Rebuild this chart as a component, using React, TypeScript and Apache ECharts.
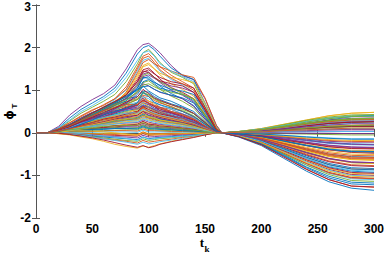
import React, { useEffect, useRef } from "react";
import * as echarts from "echarts";

// time steps at which each trace is sampled
const tk = [0, 10, 20, 30, 40, 50, 60, 70, 80, 90, 95, 100, 105, 110, 120, 130, 140, 150, 160, 165, 180, 200, 220, 240, 260, 280, 300];

const xTicks = [0, 50, 100, 150, 200, 250, 300];
const yTicks = [-2, -1, 0, 1, 2, 3];

// traces with a large excursion around t ≈ 100
const upperTraces: number[][] = [
  [0, 0, 0.15, 0.42, 0.62, 0.78, 0.92, 1.12, 1.5, 1.95, 2.07, 2.1, 2.0, 1.88, 1.58, 1.34, 1.25, 0.8, 0.18, 0, -0.02, -0.05, -0.1, -0.15, -0.2, -0.22, -0.22],
  [0, 0, 0.12, 0.35, 0.55, 0.7, 0.85, 1.05, 1.4, 1.85, 2.0, 2.05, 1.95, 1.8, 1.52, 1.36, 1.25, 0.7, 0.15, 0, 0.02, 0.06, 0.12, 0.2, 0.3, 0.38, 0.4],
  [0, 0, 0.1, 0.28, 0.46, 0.6, 0.74, 0.9, 1.2, 1.62, 1.88, 1.96, 1.82, 1.65, 1.42, 1.3, 1.15, 0.62, 0.12, 0, -0.05, -0.15, -0.3, -0.45, -0.6, -0.7, -0.72],
  [0, 0, 0.1, 0.24, 0.4, 0.54, 0.64, 0.8, 1.08, 1.55, 1.8, 1.86, 1.72, 1.55, 1.35, 1.2, 1.05, 0.55, 0.1, 0, 0.01, 0.03, 0.06, 0.1, 0.14, 0.17, 0.18],
  [0, 0, 0.06, 0.2, 0.33, 0.46, 0.6, 0.78, 1.0, 1.45, 1.7, 1.75, 1.6, 1.45, 1.25, 1.12, 0.95, 0.5, 0.08, 0, -0.08, -0.25, -0.5, -0.75, -0.95, -1.08, -1.1],
  [0, 0, 0.08, 0.16, 0.3, 0.42, 0.54, 0.7, 0.95, 1.35, 1.58, 1.64, 1.5, 1.36, 1.15, 1.02, 0.86, 0.45, 0.07, 0, 0.03, 0.1, 0.2, 0.3, 0.4, 0.46, 0.48],
  [0, 0, 0.06, 0.17, 0.31, 0.46, 0.6, 0.72, 0.9, 1.25, 1.48, 1.52, 1.4, 1.26, 1.06, 0.95, 0.8, 0.42, 0.06, 0, -0.03, -0.1, -0.2, -0.3, -0.4, -0.46, -0.48],
  [0, 0, 0.05, 0.13, 0.26, 0.37, 0.52, 0.64, 0.82, 1.15, 1.38, 1.42, 1.3, 1.18, 1.0, 0.88, 0.72, 0.36, 0.05, 0, 0, 0.02, 0.03, 0.05, 0.07, 0.08, 0.08],
  [0, 0, 0.07, 0.18, 0.31, 0.43, 0.56, 0.68, 0.8, 1.05, 1.28, 1.32, 1.2, 1.1, 0.92, 0.8, 0.64, 0.32, 0.04, 0, -0.06, -0.2, -0.4, -0.6, -0.8, -0.9, -0.93],
  [0, 0, 0.05, 0.15, 0.26, 0.39, 0.51, 0.63, 0.74, 0.98, 1.18, 1.22, 1.12, 1.02, 0.86, 0.74, 0.58, 0.28, 0.03, 0, 0.02, 0.07, 0.14, 0.22, 0.28, 0.32, 0.33],
  [0, 0, 0.06, 0.15, 0.28, 0.4, 0.52, 0.68, 0.95, 1.4, 1.65, 1.72, 1.62, 1.55, 1.45, 1.36, 1.3, 0.82, 0.18, 0, -0.04, -0.12, -0.25, -0.38, -0.5, -0.57, -0.58],
  [0, 0, 0.11, 0.3, 0.5, 0.64, 0.8, 0.98, 1.3, 1.7, 1.88, 1.92, 1.8, 1.62, 1.45, 1.32, 1.2, 0.68, 0.14, 0, 0.01, 0.04, 0.09, 0.15, 0.22, 0.26, 0.27],
  [0, 0, 0.07, 0.19, 0.33, 0.47, 0.6, 0.74, 0.92, 1.3, 1.55, 1.6, 1.5, 1.4, 1.3, 1.25, 1.18, 0.7, 0.12, 0, -0.07, -0.21, -0.42, -0.64, -0.84, -0.95, -0.97],
  [0, 0, 0.09, 0.2, 0.35, 0.48, 0.58, 0.72, 0.88, 1.2, 1.42, 1.48, 1.38, 1.3, 1.2, 1.15, 1.05, 0.6, 0.1, 0, 0.02, 0.05, 0.1, 0.16, 0.22, 0.25, 0.26],
  [0, 0, 0.05, 0.14, 0.27, 0.4, 0.53, 0.66, 0.8, 1.1, 1.32, 1.36, 1.28, 1.2, 1.1, 1.05, 0.95, 0.52, 0.08, 0, -0.02, -0.07, -0.15, -0.23, -0.3, -0.34, -0.35],
  [0, 0, 0.08, 0.2, 0.34, 0.47, 0.6, 0.72, 0.84, 1.0, 1.2, 1.25, 1.18, 1.12, 1.02, 0.98, 0.9, 0.48, 0.07, 0, -0.09, -0.27, -0.54, -0.82, -1.06, -1.2, -1.22],
  [0, 0, 0.06, 0.16, 0.29, 0.41, 0.55, 0.66, 0.78, 0.95, 1.12, 1.15, 1.08, 1.02, 0.95, 0.9, 0.8, 0.42, 0.06, 0, 0.01, 0.04, 0.07, 0.11, 0.15, 0.17, 0.18],
  [0, 0, 0.09, 0.23, 0.38, 0.52, 0.66, 0.8, 1.02, 1.5, 1.75, 1.8, 1.65, 1.48, 1.28, 1.15, 1.0, 0.55, 0.09, 0, -0.04, -0.13, -0.26, -0.4, -0.52, -0.59, -0.6],
  [0, 0, 0.07, 0.17, 0.3, 0.44, 0.57, 0.7, 0.85, 1.12, 1.35, 1.4, 1.3, 1.2, 1.05, 0.92, 0.78, 0.4, 0.05, 0, 0.03, 0.08, 0.16, 0.25, 0.33, 0.38, 0.39],
  [0, 0, 0.05, 0.15, 0.28, 0.42, 0.56, 0.7, 0.86, 1.02, 1.08, 1.1, 1.02, 0.96, 0.88, 0.82, 0.7, 0.36, 0.05, 0, -0.01, -0.03, -0.06, -0.1, -0.13, -0.15, -0.15],
];

// traces in the dense middle of the band
const middleTraces: number[][] = [
  [0, 0, 0.08, 0.18, 0.3, 0.42, 0.55, 0.68, 0.8, 0.85, 0.98, 0.95, 0.85, 0.78, 0.68, 0.6, 0.45, 0.22, 0.02, 0, -0.1, -0.3, -0.6, -0.9, -1.15, -1.3, -1.35],
  [0, 0, 0.05, 0.14, 0.24, 0.36, 0.48, 0.6, 0.72, 0.8, 0.92, 0.9, 0.8, 0.72, 0.6, 0.52, 0.4, 0.2, 0.02, 0, 0.03, 0.09, 0.18, 0.27, 0.35, 0.4, 0.41],
  [0, 0, 0.04, 0.1, 0.2, 0.3, 0.42, 0.55, 0.68, 0.78, 0.88, 0.85, 0.76, 0.7, 0.62, 0.5, 0.38, 0.2, 0.02, 0, -0.02, -0.08, -0.16, -0.24, -0.32, -0.36, -0.37],
  [0, 0, 0.06, 0.15, 0.26, 0.36, 0.45, 0.55, 0.65, 0.72, 0.85, 0.8, 0.7, 0.65, 0.55, 0.45, 0.35, 0.18, 0.02, 0, -0.07, -0.22, -0.45, -0.68, -0.88, -1.0, -1.02],
  [0, 0, 0.03, 0.1, 0.18, 0.28, 0.38, 0.48, 0.6, 0.68, 0.8, 0.75, 0.66, 0.6, 0.5, 0.42, 0.32, 0.16, 0.01, 0, 0.01, 0.02, 0.04, 0.06, 0.08, 0.09, 0.09],
  [0, 0, 0.05, 0.12, 0.22, 0.32, 0.42, 0.5, 0.6, 0.65, 0.76, 0.7, 0.62, 0.56, 0.48, 0.4, 0.3, 0.15, 0.01, 0, -0.04, -0.13, -0.27, -0.41, -0.54, -0.61, -0.62],
  [0, 0, 0.04, 0.1, 0.2, 0.3, 0.38, 0.48, 0.56, 0.6, 0.7, 0.66, 0.58, 0.52, 0.45, 0.38, 0.28, 0.14, 0.01, 0, 0.02, 0.08, 0.15, 0.23, 0.3, 0.34, 0.35],
  [0, 0, 0.02, 0.08, 0.16, 0.25, 0.34, 0.44, 0.52, 0.57, 0.66, 0.62, 0.55, 0.5, 0.42, 0.35, 0.26, 0.13, 0.01, 0, -0.06, -0.18, -0.36, -0.54, -0.72, -0.82, -0.84],
  [0, 0, 0.05, 0.12, 0.2, 0.28, 0.35, 0.42, 0.5, 0.54, 0.63, 0.58, 0.52, 0.46, 0.4, 0.33, 0.24, 0.12, 0.01, 0, 0, -0.01, -0.02, -0.03, -0.04, -0.05, -0.05],
  [0, 0, 0.03, 0.09, 0.16, 0.24, 0.32, 0.4, 0.47, 0.5, 0.6, 0.55, 0.48, 0.44, 0.38, 0.3, 0.22, 0.11, 0.01, 0, -0.03, -0.1, -0.2, -0.3, -0.4, -0.45, -0.46],
  [0, 0, 0.04, 0.1, 0.17, 0.24, 0.3, 0.37, 0.43, 0.46, 0.55, 0.5, 0.45, 0.4, 0.34, 0.28, 0.2, 0.1, 0.01, 0, 0.01, 0.05, 0.1, 0.15, 0.19, 0.22, 0.23],
  [0, 0, 0.02, 0.07, 0.14, 0.2, 0.27, 0.34, 0.4, 0.44, 0.52, 0.48, 0.42, 0.38, 0.32, 0.26, 0.19, 0.1, 0.01, 0, -0.05, -0.16, -0.32, -0.48, -0.62, -0.7, -0.72],
  [0, 0, 0.03, 0.08, 0.14, 0.2, 0.26, 0.32, 0.38, 0.41, 0.5, 0.45, 0.4, 0.36, 0.3, 0.24, 0.18, 0.09, 0.01, 0, 0.02, 0.05, 0.11, 0.17, 0.22, 0.25, 0.26],
  [0, 0, 0.05, 0.1, 0.15, 0.2, 0.25, 0.3, 0.35, 0.38, 0.46, 0.42, 0.37, 0.33, 0.28, 0.23, 0.17, 0.08, 0.01, 0, -0.02, -0.06, -0.12, -0.18, -0.24, -0.27, -0.28],
  [0, 0, 0.02, 0.06, 0.11, 0.17, 0.22, 0.28, 0.33, 0.36, 0.44, 0.4, 0.35, 0.32, 0.27, 0.22, 0.16, 0.08, 0, 0, -0.08, -0.26, -0.52, -0.8, -1.02, -1.16, -1.18],
  [0, 0, 0.03, 0.07, 0.12, 0.17, 0.22, 0.27, 0.31, 0.33, 0.41, 0.37, 0.33, 0.3, 0.25, 0.2, 0.15, 0.07, 0, 0, 0.01, 0.03, 0.06, 0.09, 0.12, 0.14, 0.14],
  [0, 0, 0.01, 0.05, 0.1, 0.15, 0.2, 0.25, 0.29, 0.31, 0.38, 0.34, 0.3, 0.27, 0.23, 0.19, 0.14, 0.07, 0, 0, -0.04, -0.12, -0.24, -0.36, -0.47, -0.53, -0.54],
  [0, 0, 0.04, 0.08, 0.12, 0.16, 0.2, 0.24, 0.28, 0.3, 0.36, 0.32, 0.28, 0.26, 0.22, 0.18, 0.13, 0.06, 0, 0, 0.02, 0.06, 0.12, 0.19, 0.25, 0.29, 0.3],
  [0, 0, 0.02, 0.05, 0.09, 0.13, 0.18, 0.22, 0.26, 0.28, 0.34, 0.3, 0.27, 0.24, 0.2, 0.16, 0.12, 0.06, 0, 0, -0.01, -0.04, -0.08, -0.12, -0.16, -0.18, -0.18],
  [0, 0, 0.03, 0.06, 0.1, 0.14, 0.17, 0.2, 0.24, 0.26, 0.32, 0.28, 0.25, 0.22, 0.18, 0.15, 0.11, 0.05, 0, 0, -0.06, -0.2, -0.4, -0.6, -0.78, -0.88, -0.9],
  [0, 0, 0.06, 0.16, 0.28, 0.4, 0.52, 0.6, 0.66, 0.66, 0.74, 0.7, 0.64, 0.58, 0.5, 0.42, 0.32, 0.16, 0.01, 0, 0.02, 0.07, 0.13, 0.2, 0.26, 0.3, 0.31],
  [0, 0, 0.04, 0.12, 0.22, 0.34, 0.45, 0.52, 0.56, 0.56, 0.64, 0.6, 0.54, 0.48, 0.4, 0.34, 0.25, 0.12, 0.01, 0, -0.05, -0.15, -0.3, -0.46, -0.6, -0.68, -0.7],
  [0, 0, 0.05, 0.13, 0.22, 0.3, 0.36, 0.42, 0.46, 0.48, 0.56, 0.52, 0.46, 0.42, 0.36, 0.3, 0.22, 0.11, 0.01, 0, 0.01, 0.02, 0.04, 0.07, 0.09, 0.1, 0.1],
  [0, 0, 0.03, 0.1, 0.2, 0.3, 0.42, 0.5, 0.58, 0.7, 0.95, 0.85, 0.72, 0.66, 0.58, 0.5, 0.38, 0.2, 0.02, 0, -0.03, -0.09, -0.19, -0.29, -0.38, -0.43, -0.44],
];

// traces near or below zero before convergence
const lowerTraces: number[][] = [
  [0, 0, 0.02, 0.05, 0.08, 0.11, 0.14, 0.17, 0.2, 0.21, 0.26, 0.22, 0.2, 0.18, 0.15, 0.12, 0.09, 0.04, 0, 0, 0.03, 0.1, 0.2, 0.3, 0.4, 0.46, 0.48],
  [0, 0, 0.01, 0.03, 0.06, 0.09, 0.12, 0.14, 0.16, 0.17, 0.22, 0.18, 0.16, 0.14, 0.12, 0.1, 0.07, 0.03, 0, 0, -0.07, -0.22, -0.44, -0.66, -0.86, -0.98, -1.0],
  [0, 0, 0.02, 0.04, 0.06, 0.08, 0.1, 0.12, 0.14, 0.14, 0.19, 0.15, 0.13, 0.12, 0.1, 0.08, 0.06, 0.03, 0, 0, 0, 0.01, 0.02, 0.03, 0.04, 0.04, 0.04],
  [0, 0, 0, 0.02, 0.04, 0.06, 0.08, 0.1, 0.11, 0.11, 0.16, 0.12, 0.11, 0.1, 0.08, 0.06, 0.05, 0.02, 0, 0, -0.04, -0.12, -0.25, -0.38, -0.5, -0.56, -0.57],
  [0, 0, 0.01, 0.02, 0.03, 0.04, 0.05, 0.06, 0.07, 0.07, 0.12, 0.08, 0.07, 0.06, 0.05, 0.04, 0.03, 0.01, 0, 0, 0.02, 0.05, 0.1, 0.16, 0.21, 0.24, 0.25],
  [0, 0, 0, 0.01, 0.02, 0.03, 0.04, 0.05, 0.05, 0.04, 0.09, 0.05, 0.05, 0.04, 0.03, 0.03, 0.02, 0.01, 0, 0, -0.09, -0.28, -0.55, -0.85, -1.1, -1.25, -1.28],
  [0, 0, 0, 0, 0.01, 0.01, 0.02, 0.02, 0.02, 0.01, 0.06, 0.02, 0.02, 0.02, 0.01, 0.01, 0.01, 0, 0, 0, -0.02, -0.06, -0.12, -0.19, -0.25, -0.28, -0.29],
  [0, 0, 0, -0.01, -0.01, -0.02, -0.02, -0.02, -0.03, -0.04, 0.02, -0.02, -0.02, -0.02, -0.01, -0.01, -0.01, 0, 0, 0, 0.01, 0.04, 0.08, 0.12, 0.16, 0.18, 0.19],
  [0, 0, 0, -0.02, -0.03, -0.04, -0.05, -0.06, -0.07, -0.08, -0.02, -0.06, -0.05, -0.05, -0.04, -0.03, -0.02, -0.01, 0, 0, -0.05, -0.17, -0.34, -0.52, -0.68, -0.77, -0.79],
  [0, 0, -0.01, -0.02, -0.04, -0.06, -0.08, -0.09, -0.1, -0.12, -0.06, -0.1, -0.09, -0.08, -0.07, -0.05, -0.04, -0.02, 0, 0, 0, 0, -0.01, -0.01, -0.01, -0.02, -0.02],
  [0, 0, -0.01, -0.03, -0.05, -0.08, -0.1, -0.12, -0.14, -0.16, -0.1, -0.14, -0.12, -0.11, -0.09, -0.07, -0.05, -0.02, 0, 0, -0.03, -0.1, -0.2, -0.3, -0.39, -0.44, -0.45],
  [0, 0, -0.01, -0.03, -0.06, -0.09, -0.12, -0.15, -0.18, -0.2, -0.14, -0.18, -0.16, -0.14, -0.12, -0.09, -0.06, -0.03, 0, 0, 0.02, 0.07, 0.14, 0.21, 0.27, 0.31, 0.32],
  [0, 0, -0.02, -0.04, -0.07, -0.1, -0.14, -0.17, -0.2, -0.24, -0.18, -0.22, -0.2, -0.18, -0.15, -0.11, -0.08, -0.04, 0, 0, -0.08, -0.24, -0.48, -0.72, -0.94, -1.06, -1.08],
  [0, 0, -0.01, -0.03, -0.06, -0.1, -0.14, -0.18, -0.22, -0.27, -0.22, -0.26, -0.24, -0.21, -0.17, -0.13, -0.09, -0.04, 0, 0, -0.01, -0.03, -0.06, -0.09, -0.12, -0.14, -0.14],
  [0, 0, -0.02, -0.05, -0.1, -0.14, -0.2, -0.27, -0.32, -0.36, -0.31, -0.34, -0.3, -0.26, -0.2, -0.15, -0.1, -0.05, 0, 0, -0.04, -0.14, -0.28, -0.43, -0.56, -0.63, -0.65],
  [0, 0, -0.01, -0.04, -0.08, -0.12, -0.17, -0.23, -0.29, -0.34, -0.3, -0.35, -0.32, -0.27, -0.21, -0.16, -0.11, -0.05, 0, 0, 0.01, 0.03, 0.07, 0.1, 0.13, 0.15, 0.15],
  [0, 0, 0.03, 0.06, 0.1, 0.14, 0.18, 0.21, 0.23, 0.24, 0.3, 0.25, 0.22, 0.2, 0.17, 0.14, 0.1, 0.05, 0, 0, -0.02, -0.07, -0.14, -0.22, -0.29, -0.33, -0.34],
  [0, 0, 0.02, 0.04, 0.06, 0.08, 0.09, 0.1, 0.1, 0.09, 0.14, 0.1, 0.09, 0.08, 0.07, 0.05, 0.04, 0.02, 0, 0, -0.06, -0.19, -0.38, -0.57, -0.75, -0.85, -0.87],
];

// jagged traces filling out the band
const jaggedTraces: number[][] = [
  [0, 0, 0.04, 0.15, 0.22, 0.35, 0.41, 0.55, 0.62, 0.7, 0.86, 0.74, 0.7, 0.6, 0.55, 0.44, 0.36, 0.15, 0.02, 0, -0.05, -0.17, -0.33, -0.5, -0.66, -0.75, -0.77],
  [0, 0, 0.07, 0.11, 0.24, 0.28, 0.4, 0.44, 0.55, 0.62, 0.72, 0.66, 0.58, 0.56, 0.45, 0.4, 0.27, 0.14, 0.01, 0, 0.02, 0.08, 0.17, 0.26, 0.34, 0.39, 0.4],
  [0, 0, 0.03, 0.09, 0.13, 0.22, 0.27, 0.36, 0.42, 0.52, 0.6, 0.5, 0.47, 0.4, 0.36, 0.28, 0.21, 0.1, 0.01, 0, -0.03, -0.09, -0.18, -0.28, -0.36, -0.41, -0.42],
  [0, 0, 0.05, 0.12, 0.2, 0.26, 0.36, 0.46, 0.58, 0.64, 0.78, 0.68, 0.62, 0.52, 0.47, 0.37, 0.3, 0.14, 0.01, 0, -0.07, -0.24, -0.48, -0.72, -0.93, -1.05, -1.07],
  [0, 0, 0.02, 0.06, 0.1, 0.18, 0.22, 0.3, 0.35, 0.42, 0.5, 0.4, 0.38, 0.33, 0.28, 0.24, 0.16, 0.07, 0, 0, 0.01, 0.04, 0.08, 0.12, 0.15, 0.17, 0.17],
  [0, 0, 0.06, 0.17, 0.25, 0.38, 0.46, 0.58, 0.68, 0.9, 1.1, 0.98, 0.9, 0.82, 0.74, 0.62, 0.5, 0.25, 0.02, 0, -0.02, -0.05, -0.11, -0.17, -0.23, -0.26, -0.27],
  [0, 0, 0.05, 0.14, 0.27, 0.33, 0.45, 0.52, 0.66, 0.78, 0.96, 0.88, 0.8, 0.74, 0.66, 0.55, 0.45, 0.24, 0.02, 0, 0.03, 0.09, 0.19, 0.29, 0.37, 0.42, 0.43],
  [0, 0, 0.02, 0.07, 0.12, 0.16, 0.22, 0.25, 0.3, 0.34, 0.42, 0.35, 0.32, 0.28, 0.23, 0.2, 0.13, 0.06, 0, 0, -0.06, -0.19, -0.38, -0.58, -0.75, -0.85, -0.86],
  [0, 0, 0.04, 0.08, 0.15, 0.2, 0.28, 0.33, 0.37, 0.45, 0.52, 0.46, 0.43, 0.36, 0.32, 0.25, 0.2, 0.09, 0.01, 0, 0, 0.01, 0.02, 0.02, 0.03, 0.03, 0.03],
  [0, 0, 0.03, 0.1, 0.19, 0.26, 0.33, 0.4, 0.45, 0.58, 0.7, 0.62, 0.52, 0.5, 0.4, 0.33, 0.25, 0.12, 0.01, 0, -0.04, -0.14, -0.28, -0.42, -0.55, -0.62, -0.63],
  [0, 0, 0.01, 0.04, 0.08, 0.1, 0.13, 0.17, 0.18, 0.2, 0.27, 0.2, 0.19, 0.16, 0.14, 0.11, 0.08, 0.04, 0, 0, 0.02, 0.06, 0.12, 0.18, 0.24, 0.27, 0.28],
  [0, 0, 0.06, 0.13, 0.24, 0.34, 0.43, 0.56, 0.7, 0.95, 1.15, 1.1, 1.02, 0.95, 0.88, 0.8, 0.62, 0.32, 0.03, 0, -0.05, -0.16, -0.31, -0.47, -0.61, -0.69, -0.7],
  [0, 0, 0.05, 0.16, 0.28, 0.42, 0.52, 0.65, 0.75, 1.05, 1.3, 1.28, 1.15, 1.05, 0.98, 0.9, 0.75, 0.4, 0.04, 0, 0.01, 0.03, 0.06, 0.1, 0.13, 0.15, 0.15],
  [0, 0, 0.02, 0.05, 0.07, 0.09, 0.1, 0.12, 0.1, 0.12, 0.18, 0.12, 0.11, 0.09, 0.08, 0.06, 0.05, 0.02, 0, 0, -0.08, -0.26, -0.5, -0.76, -0.98, -1.12, -1.14],
  [0, 0, -0.01, -0.01, -0.03, -0.03, -0.05, -0.04, -0.06, -0.05, 0.02, -0.04, -0.03, -0.03, -0.02, -0.02, -0.01, 0, 0, 0, -0.01, -0.04, -0.09, -0.14, -0.18, -0.2, -0.21],
  [0, 0, 0.01, 0, -0.02, -0.05, -0.07, -0.1, -0.13, -0.18, -0.1, -0.15, -0.14, -0.12, -0.1, -0.08, -0.06, -0.03, 0, 0, 0.03, 0.09, 0.17, 0.26, 0.33, 0.38, 0.39],
  [0, 0, 0.03, 0.08, 0.14, 0.19, 0.24, 0.3, 0.33, 0.38, 0.47, 0.38, 0.36, 0.3, 0.26, 0.22, 0.15, 0.07, 0, 0, -0.04, -0.11, -0.22, -0.34, -0.44, -0.5, -0.51],
  [0, 0, 0.05, 0.1, 0.18, 0.24, 0.32, 0.37, 0.44, 0.5, 0.62, 0.54, 0.5, 0.44, 0.39, 0.3, 0.24, 0.11, 0.01, 0, -0.06, -0.21, -0.42, -0.63, -0.82, -0.93, -0.95],
  [0, 0, 0.04, 0.12, 0.2, 0.3, 0.38, 0.48, 0.54, 0.66, 0.82, 0.7, 0.64, 0.6, 0.5, 0.44, 0.33, 0.16, 0.01, 0, 0.01, 0.05, 0.09, 0.14, 0.18, 0.21, 0.21],
  [0, 0, 0.07, 0.18, 0.32, 0.46, 0.6, 0.74, 0.88, 1.2, 1.45, 1.42, 1.3, 1.22, 1.15, 1.1, 0.95, 0.55, 0.06, 0, -0.03, -0.08, -0.17, -0.25, -0.33, -0.37, -0.38],
  [0, 0, 0.02, 0.04, 0.05, 0.04, 0.02, 0, -0.03, -0.06, 0, -0.05, -0.05, -0.04, -0.03, -0.02, -0.02, -0.01, 0, 0, -0.07, -0.23, -0.46, -0.7, -0.9, -1.02, -1.04],
  [0, 0, 0.03, 0.07, 0.1, 0.12, 0.15, 0.16, 0.17, 0.18, 0.24, 0.17, 0.16, 0.14, 0.12, 0.1, 0.07, 0.03, 0, 0, 0.02, 0.07, 0.14, 0.22, 0.29, 0.33, 0.34],
  [0, 0, 0.06, 0.14, 0.26, 0.36, 0.48, 0.58, 0.72, 0.84, 1.02, 0.92, 0.82, 0.76, 0.66, 0.58, 0.46, 0.24, 0.02, 0, -0.09, -0.28, -0.57, -0.86, -1.1, -1.25, -1.27],
  [0, 0, 0.04, 0.09, 0.16, 0.23, 0.3, 0.35, 0.4, 0.48, 0.58, 0.5, 0.44, 0.4, 0.34, 0.28, 0.2, 0.1, 0.01, 0, 0.01, 0.02, 0.05, 0.07, 0.09, 0.11, 0.11],
];

const lineColors = ["#0072BD", "#D95319", "#EDB120", "#7E2F8E", "#77AC30", "#4DBEEE", "#A2142F"];

export default function App() {
  const ref = useRef<HTMLDivElement>(null);
  useEffect(() => {
    if (!ref.current) return;
    const chart = echarts.init(ref.current, null, { renderer: "svg" });
    const traces: number[][] = [];
    const groups = [middleTraces, jaggedTraces, lowerTraces, upperTraces];
    const maxLen = Math.max(...groups.map((g) => g.length));
    for (let k = 0; k < maxLen; k++) {
      for (const g of groups) if (k < g.length) traces.push(g[k]);
    }
    const series = traces.map((tr, i) => ({
      type: "line",
      xAxisIndex: 0,
      yAxisIndex: 0,
      data: tk.map((t, j) => [t, tr[j]]),
      showSymbol: false,
      symbol: "none",
      silent: true,
      lineStyle: { width: 0.9, color: lineColors[i % lineColors.length] },
    }));
    const axisCol = "#555";
    const lblStyle = { color: "#000", fontSize: 12, fontWeight: "bold", fontFamily: "Liberation Sans, Arial, sans-serif" };
    const serifBold = "bold 13px 'Liberation Serif', serif";
    chart.setOption({
      animation: false,
      backgroundColor: "#fff",
      grid: { left: 36, right: 11, top: 5, bottom: 36, containLabel: false, outerBoundsMode: "none" },
      graphic: [
        { type: "text", x: 9, y: 115, rotation: Math.PI / 2, style: { text: "ϕ", font: "bold 12px 'DejaVu Sans', sans-serif", fill: "#000", align: "center", verticalAlign: "middle" } },
        { type: "text", x: 14, y: 106, rotation: Math.PI / 2, style: { text: "T", font: "bold 8px 'Liberation Sans', sans-serif", fill: "#000", align: "center", verticalAlign: "middle" } },
        { type: "text", x: 202, y: 242, style: { text: "t", font: serifBold, fill: "#000", align: "center", verticalAlign: "middle" } },
        { type: "text", x: 207, y: 249, style: { text: "k", font: "bold 9px 'Liberation Serif', serif", fill: "#000", align: "center", verticalAlign: "middle" } },
      ],
      xAxis: [
        {
          type: "value", min: 0, max: 300, interval: 50, position: "bottom",
          axisLine: { show: true, lineStyle: { color: axisCol, width: 1 } },
          axisTick: { show: true, inside: true, length: 4, lineStyle: { color: axisCol } },
          splitLine: { show: false },
          axisLabel: { ...lblStyle, margin: 5, formatter: (v: number) => (xTicks.includes(v) ? String(v) : "") },
        },
        {
          type: "value", min: 0, max: 300, interval: 50, position: "top",
          axisLine: { show: true, lineStyle: { color: axisCol, width: 1 } },
          axisTick: { show: true, inside: true, length: 4, lineStyle: { color: axisCol } },
          splitLine: { show: false },
          axisLabel: { show: false },
        },
      ],
      yAxis: [
        {
          type: "value", min: -2, max: 3, interval: 1, position: "left",
          axisLine: { show: true, lineStyle: { color: axisCol, width: 1 } },
          axisTick: { show: true, inside: true, length: 4, lineStyle: { color: axisCol } },
          splitLine: { show: false },
          axisLabel: {
            ...lblStyle,
            margin: 5,
            formatter: (v: number) => (v === 3 ? "{top|3}" : yTicks.includes(v) ? String(v) : ""),
            rich: { top: { ...lblStyle, padding: [3, 0, 0, 0] } },
          },
        },
        {
          type: "value", min: -2, max: 3, interval: 1, position: "right",
          axisLine: { show: true, lineStyle: { color: axisCol, width: 1 } },
          axisTick: { show: true, inside: true, length: 4, lineStyle: { color: axisCol } },
          splitLine: { show: false },
          axisLabel: { show: false },
        },
      ],
      series,
    });
    return () => chart.dispose();
  }, []);
  return <div ref={ref} style={{ position: "fixed", left: 0, top: 0, width: 385, height: 254 }} />;
}
